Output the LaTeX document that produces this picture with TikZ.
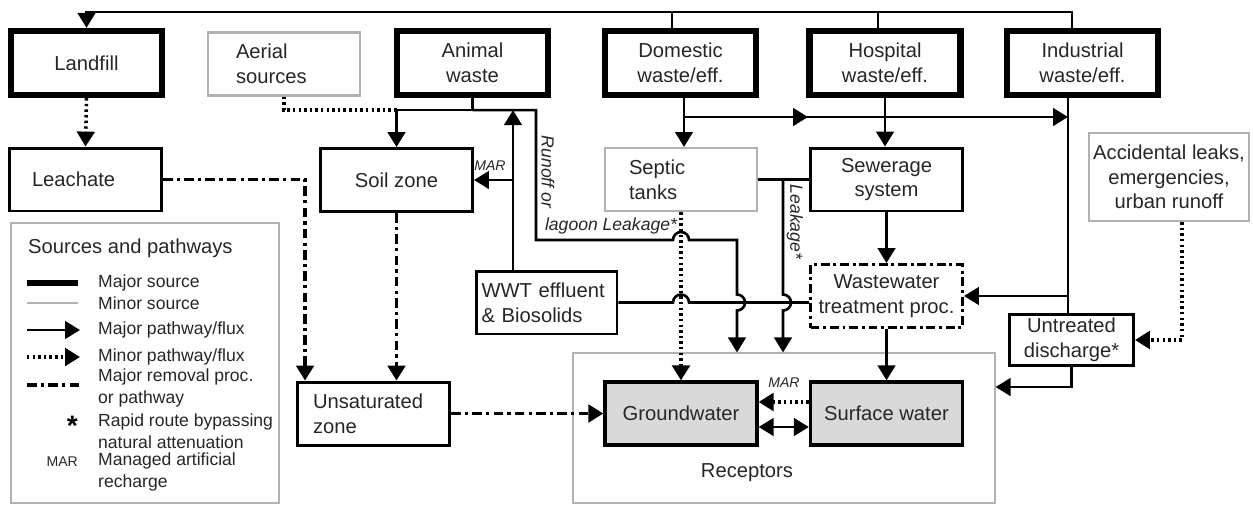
\documentclass[tikz,border=0pt]{standalone}
\usepackage{fontspec}
\setmainfont{Liberation Sans}
\usetikzlibrary{positioning,arrows.meta}

\begin{document}
\begin{tikzpicture}[
    x=0.02cm, y=-0.02cm,
    >={Triangle[length=8.5pt,width=10pt]},
    box/.style={
        draw,
        line width=1.7pt,
        minimum width=3.04cm,
        minimum height=1.26cm,
        align=center,
        inner sep=2pt,
        text=black!85,
        font=\fontsize{11.5}{14}\selectfont
    },
    major/.style={box, line width=3.6pt, minimum width=3.02cm, minimum height=1.28cm},
    minor/.style={box, draw=gray!60, line width=1.2pt},
    removalbox/.style={box, dash pattern=on 5pt off 2.2pt on 1.6pt off 2.2pt},
    receptor/.style={box, fill=gray!30, line width=1.9pt},
    lft/.style={align=left, text width=#1},
    frame/.style={draw=gray!60, line width=0.7pt},
    link/.style={line width=1.5pt},
    flow/.style={->, line width=1.5pt},
    minorflow/.style={->, line width=2pt, dash pattern=on 1.4pt off 1.8pt},
    minorlink/.style={line width=2pt, dash pattern=on 1.4pt off 1.8pt},
    removal/.style={->, line width=1.8pt, dash pattern=on 5.5pt off 2.4pt on 1.8pt off 2.4pt},
    lbl/.style={text=black!85, font=\fontsize{10}{12}\selectfont\itshape},
    marlbl/.style={text=black!85, font=\fontsize{8}{9}\selectfont\itshape},
    legtext/.style={anchor=west, align=left, text=black!85, font=\fontsize{10}{12.5}\selectfont}
]
    \useasboundingbox (0,0) rectangle (1253,505);

    % ---------------------------------------------------------
    % FRAMES: RECEPTORS AND LEGEND
    % ---------------------------------------------------------
    \node[frame, minimum width=8.44cm, minimum height=3.0cm] (recv) at (784,428) {};
    \node[text=black!85, font=\fontsize{11.5}{14}\selectfont] (rlab) at (747,473) {Receptors};
    \node[frame, minimum width=5.36cm, minimum height=5.6cm] (leg) at (145,363) {};

    % ---------------------------------------------------------
    % TOP: THE SOURCES
    % ---------------------------------------------------------
    \node[major] (land) at (86.5,63) {Landfill};
    \node[minor, lft=1.92cm] (aer) at (284,64) {Aerial\\sources};
    \node[major] (ani) at (472.5,63) {Animal\\waste};
    \node[major] (dom) at (680.5,63) {Domestic\\waste/eff.};
    \node[major] (hos) at (885,63) {Hospital\\waste/eff.};
    \node[major] (ind) at (1082.5,63) {Industrial\\waste/eff.};

    % ---------------------------------------------------------
    % MIDDLE: PATHWAYS AND PROCESSES
    % ---------------------------------------------------------
    \node[box, lft=2.14cm] (leach) at (85.5,179.5) {Leachate};
    \node[box] (soil) at (396.5,180) {Soil zone};
    \node[minor, lft=2.08cm] (sep) at (681,179.5) {Septic\\tanks};
    \node[box] (sew) at (886.5,179.5) {Sewerage\\system};
    \node[minor, minimum width=3.2cm, minimum height=1.76cm] (acc) at (1169,177) {Accidental leaks,\\emergencies,\\urban runoff};

    \node[box, minimum width=2.82cm, lft=2.6cm] (wwt) at (546.5,302.5) {WWT effluent\\\& Biosolids};
    \node[removalbox] (wwtp) at (886.5,296) {Wastewater\\treatment proc.};
    \node[box, minimum width=2.48cm, minimum height=1.02cm] (unt) at (1071.5,340) {Untreated\\discharge*};

    % ---------------------------------------------------------
    % BOTTOM: ZONES AND RECEPTORS
    % ---------------------------------------------------------
    \node[box, lft=2.42cm] (unsat) at (373.5,413.5) {Unsaturated\\zone};
    \node[receptor] (gw) at (681,413.5) {Groundwater};
    \node[receptor] (sw) at (886.5,413.5) {Surface water};

    % bends and junctions
    \coordinate (tI) at (1072,12);
    \coordinate (tD) at (672,12);
    \coordinate (tH) at (878,12);
    \path (ani.south) ++(0,12) coordinate (aj);
    \coordinate (ro) at (536,240);
    \coordinate (lg) at (737,240);
    \coordinate (up) at (513,0);
    \coordinate (lk) at (783,0);
    \coordinate (h1) at (673,0);
    \coordinate (hy) at (0,294.5);
    \coordinate (dx) at (684,117);
    \coordinate (mid) at (808,117);
    \coordinate (ij) at (1068,117);
    \coordinate (ac) at (1182,0);
    \coordinate (uy) at (0,387);

    % ---------------------------------------------------------
    % ARROWS
    % ---------------------------------------------------------
    % Back to the landfill
    \draw[flow] (tI |- ind.north) -- (tI) -| (land.north);
    \draw[link] (tD |- dom.north) -- (tD);
    \draw[link] (tH |- hos.north) -- (tH);

    % Landfill and soil towards groundwater
    \draw[minorflow] (land.south) -- (leach.north);
    \draw[removal] (leach.east) -| ([xshift=0.18cm]unsat.north west);
    \draw[removal] (soil.south) -- (soil.south |- unsat.north);
    \draw[removal] (unsat.east) -- (gw.west);

    % Animal waste, runoff or lagoon leakage
    \draw[link] (ani.south) -- (aj);
    \draw[flow] (aj) -| (soil.north);
    \draw[minorlink] (aer.south) |- (soil.north |- aj);
    \draw[flow] (aj) -| (ro) -- (h1 |- ro) arc[start angle=180, end angle=0, radius=0.16cm]
        -- (lg) -- (lg |- hy) arc[start angle=90, end angle=-90, radius=0.16cm] -- (lg |- recv.north);

    % Effluent and biosolids
    \draw[flow] (up |- wwt.north) -- (up |- aj);
    \draw[flow] (up |- soil.east) -- (soil.east);
    \node[marlbl] (mar1) at (490,166) {MAR};
    \draw[link] (wwt.east) -- (h1 |- wwt.east) arc[start angle=180, end angle=0, radius=0.16cm] -- (wwtp.west |- wwt.east);

    % Domestic and hospital
    \draw[flow] (dx |- dom.south) -- (dx |- sep.north);
    \draw[flow] (dx) -- (mid);
    \draw[flow] (dx) -- (ij);
    \draw[flow] (hos.south) -- (hos.south |- sew.north);
    \draw[minorflow] (sep.south) -- (gw.north);
    \draw[link] (sep.east) -- (sew.west);
    \draw[flow] (lk |- sep.east) -- (lk |- hy) arc[start angle=90, end angle=-90, radius=0.16cm] -- (lk |- recv.north);
    \draw[flow] (sew.south) -- (wwtp.north);
    \draw[flow] (wwtp.south) -- (sw.north);

    % Industrial and accidental
    \draw[link] (ij |- ind.south) -- (ij |- unt.north);
    \draw[flow] (ij |- wwtp.east) -- (wwtp.east);
    \draw[minorflow] (ac |- acc.south) |- (unt.east);
    \draw[flow] (unt.south) |- (recv.east |- uy);

    % Between receptors
    \draw[minorflow] ([yshift=0.23cm]sw.west) -- ([yshift=0.23cm]gw.east);
    \node[marlbl] (mar2) at (784,383) {MAR};
    \draw[<->, link] ([yshift=-0.27cm]gw.east) -- ([yshift=-0.27cm]sw.west);

    % Path labels
    \node[lbl, rotate=-90] (runoff) at (548,172) {Runoff or};
    \node[lbl] (lagoon) at (611,226) {lagoon Leakage*};
    \node[lbl, rotate=-90] (leak) at (795,222) {Leakage*};

    % ---------------------------------------------------------
    % LEGEND
    % ---------------------------------------------------------
    \node[anchor=west, text=black!85, font=\fontsize{11.5}{14}\selectfont] (legtitle) at (22,248) {Sources and pathways};
    \draw[line width=3.6pt] (27,283) -- (78,283);
    \draw[gray!60, line width=1.2pt] (27,303) -- (78,303);
    \draw[flow] (27,330) -- (80,330);
    \draw[minorflow] (27,357) -- (80,357);
    \draw[removal, -] (27,385) -- (80,385);
    \node[anchor=east, font=\fontsize{16}{16}\selectfont\bfseries] (star) at (84,426) {*};
    \node[anchor=east, text=black!85, font=\fontsize{8}{9}\selectfont] (marleg) at (84,462) {MAR};

    \node[legtext] (l1) at (92,283) {Major source};
    \node[legtext] (l2) at (92,303) {Minor source};
    \node[legtext] (l3) at (92,330) {Major pathway/flux};
    \node[legtext] (l4) at (92,357) {Minor pathway/flux};
    \node[legtext] (l5) at (92,388) {Major removal proc.\\or pathway};
    \node[legtext] (l6) at (92,431) {Rapid route bypassing\\natural attenuation};
    \node[legtext] (l7) at (92,472) {Managed artificial\\recharge};

\end{tikzpicture}
\end{document}
